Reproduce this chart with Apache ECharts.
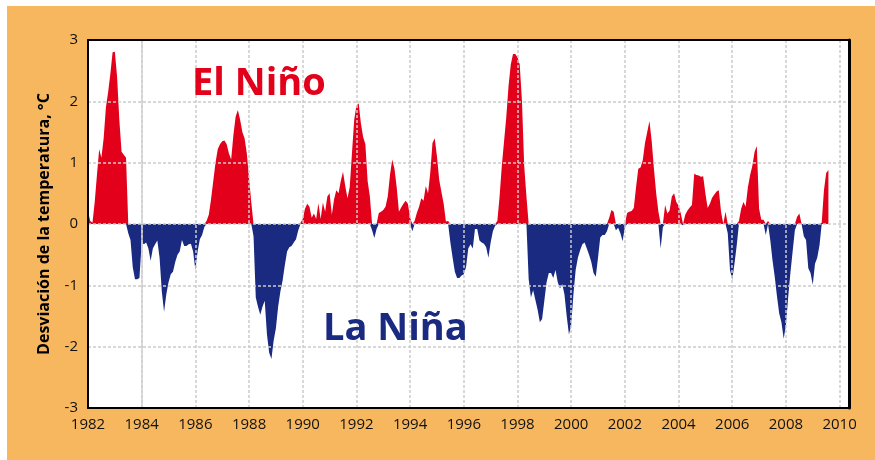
<!DOCTYPE html>
<html>
<head>
<meta charset="utf-8">
<script src="https://cdn.jsdelivr.net/npm/echarts@6/dist/echarts.min.js"></script>
<style>
html,body{margin:0;padding:0;background:#fff;}
#wrap{position:relative;width:875px;height:460px;background:#fff;overflow:hidden;}
#bg{position:absolute;left:7px;top:6px;width:868px;height:454px;background:#F7B75E;}
#chart{position:absolute;left:0;top:0;width:875px;height:460px;}
</style>
</head>
<body>
<div id="wrap"><div id="bg"></div><div id="chart"></div></div>
<script>
// Monthly temperature deviation (°C), starting January 1982
const startYear = 1982;
const anom1980s = [
  0.2, 0.05, 0.02, 0.36, 0.8, 1.22, 1.08, 1.4, 1.9, 2.15, 2.45, 2.8,        // 1982
  2.81, 2.4, 1.7, 1.18, 1.13, 1.08, -0.15, -0.26, -0.7, -0.9, -0.9, -0.88,  // 1983
  -0.3, -0.33, -0.3, -0.4, -0.6, -0.4, -0.33, -0.27, -0.55, -1.1, -1.43, -1.15, // 1984
  -0.95, -0.82, -0.78, -0.62, -0.5, -0.45, -0.26, -0.36, -0.36, -0.33, -0.32, -0.45, // 1985
  -0.75, -0.45, -0.25, -0.18, -0.05, 0.05, 0.15, 0.4, 0.7, 1.0, 1.22, 1.3,  // 1986
  1.35, 1.36, 1.3, 1.15, 1.05, 1.45, 1.75, 1.86, 1.7, 1.5, 1.4, 1.15,       // 1987
  0.75, 0.35, -0.2, -1.2, -1.35, -1.48, -1.35, -1.25, -1.8, -2.1, -2.2, -1.9, // 1988
  -1.7, -1.35, -1.1, -0.92, -0.67, -0.45, -0.38, -0.36, -0.3, -0.25, -0.1, 0.02 // 1989
];
const anom1990s = [
  0.08, 0.25, 0.33, 0.28, 0.1, 0.17, 0.08, 0.34, 0.08, 0.35, 0.2, 0.45,     // 1990
  0.5, 0.15, 0.4, 0.55, 0.5, 0.7, 0.85, 0.62, 0.42, 0.6, 1.15, 1.7,         // 1991
  1.93, 1.97, 1.64, 1.42, 1.3, 0.7, 0.45, -0.1, -0.23, -0.08, 0.18, 0.2,    // 1992
  0.23, 0.28, 0.45, 0.8, 1.05, 0.9, 0.6, 0.2, 0.27, 0.33, 0.38, 0.33,       // 1993
  0.1, -0.12, 0.05, 0.18, 0.28, 0.42, 0.38, 0.62, 0.5, 0.83, 1.32, 1.4,     // 1994
  1.1, 0.72, 0.52, 0.33, 0.04, 0.05, -0.3, -0.55, -0.78, -0.88, -0.88, -0.84, // 1995
  -0.82, -0.7, -0.4, -0.33, -0.4, -0.08, -0.08, -0.27, -0.3, -0.32, -0.38, -0.55, // 1996
  -0.3, -0.12, -0.03, 0.05, 0.45, 0.95, 1.35, 1.75, 2.25, 2.6, 2.77, 2.77,  // 1997
  2.72, 2.6, 2.0, 0.95, 0.45, -0.9, -1.2, -1.08, -1.24, -1.4, -1.6, -1.55,  // 1998
  -1.25, -0.95, -0.8, -0.8, -0.88, -0.75, -0.95, -1.05, -0.98, -1.15, -1.5, -1.8 // 1999
];
const anom2000s = [
  -1.65, -1.15, -0.75, -0.55, -0.43, -0.33, -0.3, -0.4, -0.5, -0.62, -0.8, -0.86, // 2000
  -0.55, -0.22, -0.18, -0.18, -0.12, 0.1, 0.23, 0.2, -0.1, -0.06, -0.15, -0.28,  // 2001
  -0.05, 0.18, 0.2, 0.21, 0.26, 0.6, 0.9, 0.92, 1.04, 1.32, 1.5, 1.68,      // 2002
  1.35, 0.9, 0.5, 0.2, -0.4, -0.05, 0.31, 0.17, 0.22, 0.45, 0.5, 0.36,      // 2003
  0.3, 0.17, -0.02, 0.15, 0.22, 0.27, 0.31, 0.82, 0.8, 0.79, 0.77, 0.78,    // 2004
  0.5, 0.26, 0.33, 0.43, 0.48, 0.53, 0.55, 0.2, 0.0, 0.2, -0.15, -0.75,     // 2005
  -0.91, -0.65, -0.35, 0.05, 0.25, 0.36, 0.28, 0.6, 0.8, 0.95, 1.18, 1.27,  // 2006
  0.25, 0.07, 0.07, -0.18, 0.05, -0.26, -0.59, -0.86, -1.18, -1.46, -1.6, -1.87, // 2007
  -1.65, -1.2, -0.8, -0.45, -0.1, 0.12, 0.17, 0.0, -0.2, -0.26, -0.72, -0.8, // 2008
  -0.99, -0.65, -0.55, -0.35, 0.02, 0.55, 0.83, 0.88                        // 2009
];
const xTicks = [1982, 1984, 1986, 1988, 1990, 1992, 1994, 1996, 1998, 2000, 2002, 2004, 2006, 2008, 2010];
const yTicks = [-3, -2, -1, 0, 1, 2, 3];

const RED = '#E3001B';
const BLUE = '#1A2A80';
const GRIDC = '#cccccc';
const FONT = "'Open Sans', 'Noto Sans', sans-serif";
const X_MAX = 2010.35;

const anomalies = [].concat(anom1980s, anom1990s, anom2000s);
const points = anomalies.map((v, i) => [startYear + i / 12, v]);
const warm = points.map(p => [p[0], Math.max(p[1], 0)]);
const cold = points.map(p => [p[0], Math.min(p[1], 0)]);

const frameAxis = {
  axisTick: {show: false}, axisLabel: {show: false}, splitLine: {show: false}
};

const chart = echarts.init(document.getElementById('chart'), null, {renderer: 'canvas'});
chart.setOption({
  backgroundColor: 'transparent',
  animation: false,
  grid: {left: 88, top: 40, right: 26, bottom: 52, show: true, backgroundColor: '#fff', borderWidth: 0},
  xAxis: [{
    type: 'value', min: xTicks[0], max: X_MAX, interval: 2, z: 5,
    axisLine: {show: true, onZero: false, lineStyle: {color: '#000', width: 2}},
    axisTick: {show: false},
    axisLabel: {
      fontFamily: FONT, fontSize: 15, color: '#111', margin: 9,
      formatter: v => (xTicks.indexOf(v) >= 0 ? String(v) : '')
    },
    splitLine: {show: true, lineStyle: {color: GRIDC, type: [3, 2], width: 1.5}}
  }, Object.assign({
    type: 'value', position: 'top', min: xTicks[0], max: X_MAX, z: 6,
    axisLine: {show: true, onZero: false, lineStyle: {color: '#000', width: 2}}
  }, frameAxis)],
  yAxis: [{
    type: 'value', min: yTicks[0], max: yTicks[yTicks.length - 1], interval: 1, z: 5,
    name: 'Desviación de la temperatura, °C',
    nameLocation: 'middle', nameGap: 36,
    nameTextStyle: {fontFamily: FONT, fontWeight: 'bold', fontSize: 16, color: '#000'},
    axisLine: {show: true, lineStyle: {color: '#000', width: 2}},
    axisTick: {show: false},
    axisLabel: {fontFamily: FONT, fontSize: 15, color: '#111', margin: 10},
    splitLine: {show: true, lineStyle: {color: GRIDC, type: [3, 2], width: 1.5}}
  }, Object.assign({
    type: 'value', position: 'right', min: yTicks[0], max: yTicks[yTicks.length - 1], z: 6,
    axisLine: {show: true, onZero: false, lineStyle: {color: '#000', width: 3}}
  }, frameAxis)],
  series: [
    {
      name: 'El Niño', type: 'line', data: warm, symbol: 'none', showSymbol: false, silent: true,
      lineStyle: {width: 0, opacity: 0}, areaStyle: {color: RED, opacity: 1, origin: 'auto'}
    },
    {
      name: 'La Niña', type: 'line', data: cold, symbol: 'none', showSymbol: false, silent: true,
      lineStyle: {width: 0, opacity: 0}, areaStyle: {color: BLUE, opacity: 1, origin: 'auto'},
      markLine: {
        silent: true, symbol: ['none', 'none'], label: {show: false},
        lineStyle: {color: '#d0d0d0', type: 'solid', width: 1.5},
        data: [{xAxis: 1984}]
      }
    }
  ],
  graphic: [
    {type: 'text', x: 192, y: 84, z: 10, style: {text: 'El Niño', fill: RED, font: "bold 38px 'Open Sans'", textAlign: 'left', textVerticalAlign: 'middle'}},
    {type: 'text', x: 323, y: 329, z: 10, style: {text: 'La Niña', fill: BLUE, font: "bold 38px 'Open Sans'", textAlign: 'left', textVerticalAlign: 'middle'}}
  ]
});
</script>
</body>
</html>
